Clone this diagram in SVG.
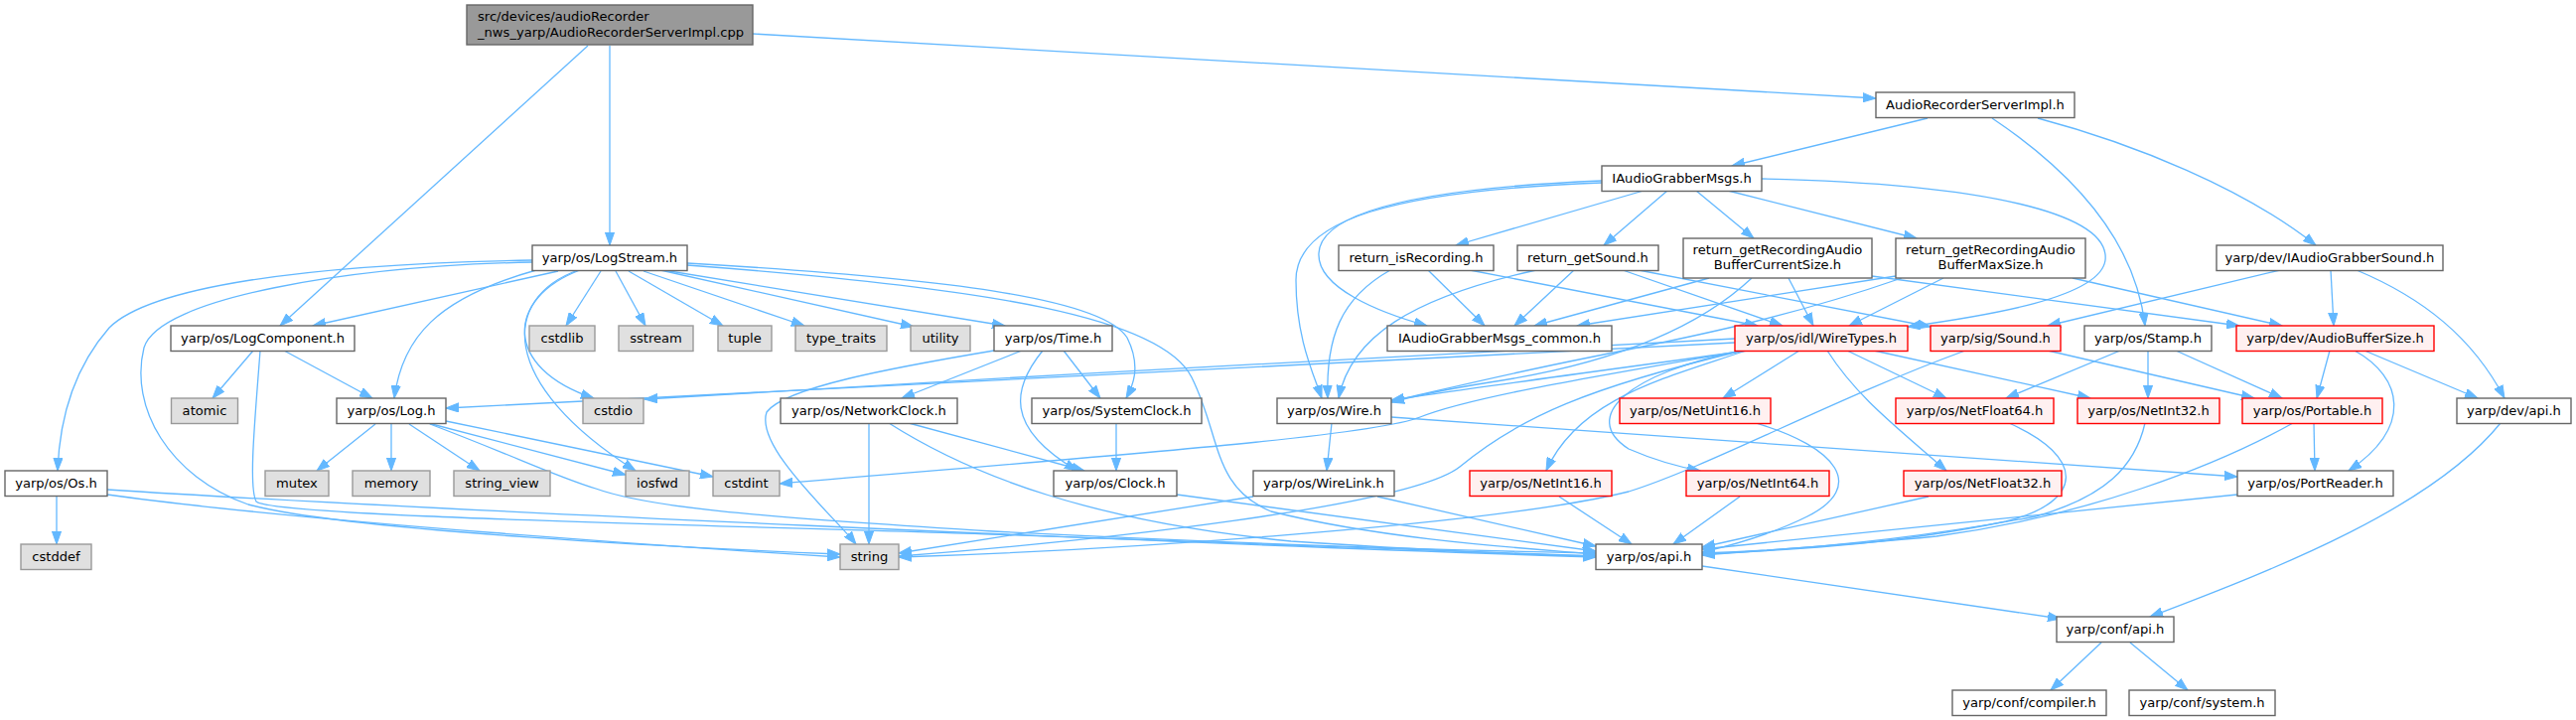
<svg xmlns="http://www.w3.org/2000/svg" width="2594" height="725" viewBox="0 0 2594 725">
<defs>
<marker id="ah" markerWidth="14" markerHeight="10" refX="13" refY="5" orient="auto" markerUnits="userSpaceOnUse">
<path d="M0,0.4 L13,5 L0,9.6 z" fill="#63b8ff" stroke="#63b8ff" stroke-width="1"/>
</marker>
<style>
rect{stroke-width:1.4}
.n rect{fill:#ffffff;stroke:#666666}
.g rect{fill:#e0e0e0;stroke:#999999}
.r rect{fill:#fff0f0;stroke:#ff0000}
.root rect{fill:#999999;stroke:#666666}
text{font-family:"DejaVu Sans","Liberation Sans",sans-serif;font-size:13.1px;fill:#000000}
.c{text-anchor:middle}
#edges path{fill:none;stroke:#63b8ff;stroke-width:1.3;marker-end:url(#ah)}
</style>
</defs>
<rect x="0" y="0" width="2594" height="725" fill="#ffffff"/>
<g id="edges">
<path d="M592,46 L282,328"/>
<path d="M614,46 L614,247"/>
<path d="M758,34 L1889,99"/>
<path d="M1941,119 L1744,167"/>
<path d="M2006,119 C2085,172 2150,240 2160,328"/>
<path d="M2052,119 C2150,145 2260,190 2332,247"/>
<path d="M1655,192 L1466,247"/>
<path d="M1679,192 L1615,247"/>
<path d="M1708,192 L1766,240"/>
<path d="M1740,192 L1930,240"/>
<path d="M1613,182 C1420,190 1330,215 1328,255 C1326,290 1390,315 1437,328"/>
<path d="M1613,184 C1400,192 1305,222 1305,282 C1305,340 1322,375 1331,401"/>
<path d="M1774,180 C2000,185 2125,215 2120,262 C2115,300 2000,318 1921,329"/>
<path d="M536,262 C300,266 150,290 110,330 C75,370 60,420 58,474"/>
<path d="M536,264 C350,268 160,300 145,350 C130,410 170,480 250,508 C350,535 700,552 846,558"/>
<path d="M562,273 L315,328"/>
<path d="M540,272 C440,300 405,340 397,401"/>
<path d="M584,272 C510,300 505,370 598,401"/>
<path d="M582,272 C505,300 500,385 640,474"/>
<path d="M605,273 L570,328"/>
<path d="M620,273 L650,328"/>
<path d="M633,273 L728,328"/>
<path d="M648,273 L810,328"/>
<path d="M665,272 L920,329"/>
<path d="M668,272 L1012,328"/>
<path d="M692,265 C950,280 1110,300 1135,340 C1150,370 1140,390 1134,401"/>
<path d="M692,267 C1000,290 1170,320 1200,380 C1230,440 1220,490 1280,515 C1400,545 1550,553 1607,558"/>
<path d="M255,353 L214,401"/>
<path d="M286,353 L375,401"/>
<path d="M262,353 C257,420 250,490 258,505 C275,520 700,528 1000,538 C1300,550 1500,556 1607,560"/>
<path d="M378,427 L319,474"/>
<path d="M394,427 L394,474"/>
<path d="M412,427 L483,474"/>
<path d="M431,426 L630,478"/>
<path d="M449,424 L718,480"/>
<path d="M433,427 C520,460 560,480 600,492 C650,510 750,520 1000,535 C1300,550 1500,555 1607,557"/>
<path d="M57,500 L57,548"/>
<path d="M108,493 C400,512 1200,548 1607,561"/>
<path d="M108,498 C300,525 700,552 846,561"/>
<path d="M1001,353 C900,370 790,390 772,415 C760,450 840,520 862,548"/>
<path d="M1029,353 L908,401"/>
<path d="M1050,353 C1020,390 1010,430 1085,474"/>
<path d="M1071,353 L1108,401"/>
<path d="M875,427 L875,548"/>
<path d="M915,426 L1092,474"/>
<path d="M895,426 C980,480 1100,525 1300,545 C1450,555 1550,559 1607,560"/>
<path d="M1124,426 L1124,474"/>
<path d="M1185,498 L1607,555"/>
<path d="M1262,500 L905,557"/>
<path d="M1387,500 L1607,550"/>
<path d="M1341,426 L1336,474"/>
<path d="M1401,420 L2253,480"/>
<path d="M1812,353 L1735,401"/>
<path d="M1860,353 L1960,401"/>
<path d="M1887,353 L2105,401"/>
<path d="M1840,353 C1870,400 1910,430 1960,474"/>
<path d="M1755,353 C1640,375 1590,420 1640,452 C1670,465 1690,470 1712,474"/>
<path d="M1758,353 C1680,380 1590,400 1557,474"/>
<path d="M1760,353 C1600,375 1450,395 1401,403"/>
<path d="M1756,353 C1600,380 1480,400 1430,420 C1380,440 1100,460 785,487"/>
<path d="M1747,345 C1500,360 1000,385 449,411"/>
<path d="M1747,341 C1500,354 1000,380 649,402"/>
<path d="M1755,353 C1600,390 1530,420 1470,470 C1420,510 1100,545 905,560"/>
<path d="M1721,280 L1545,328"/>
<path d="M1764,280 C1700,340 1600,370 1500,385 C1450,393 1420,400 1401,405"/>
<path d="M1801,280 L1826,328"/>
<path d="M1885,278 L2255,328"/>
<path d="M1909,278 L1588,328"/>
<path d="M1957,280 L1862,328"/>
<path d="M1915,280 C1800,320 1700,340 1600,360 C1500,380 1430,398 1401,404"/>
<path d="M2087,280 L2298,328"/>
<path d="M1400,272 C1350,300 1335,340 1337,401"/>
<path d="M1438,272 L1495,328"/>
<path d="M1480,272 L1770,328"/>
<path d="M1547,272 C1420,300 1360,340 1348,401"/>
<path d="M1585,272 L1525,328"/>
<path d="M1634,272 L1795,328"/>
<path d="M1650,272 L1944,329"/>
<path d="M2296,272 L2062,328"/>
<path d="M2347,272 L2350,328"/>
<path d="M2373,272 C2440,300 2490,340 2522,401"/>
<path d="M1979,353 C1850,400 1720,470 1640,495 C1500,530 1100,555 905,561"/>
<path d="M2062,353 L2270,401"/>
<path d="M2135,353 L2020,401"/>
<path d="M2163,353 L2163,401"/>
<path d="M2191,353 L2298,401"/>
<path d="M2346,353 L2333,401"/>
<path d="M2371,353 C2420,380 2430,430 2365,474"/>
<path d="M2381,353 L2495,401"/>
<path d="M1768,426 C1850,450 1880,490 1820,520 C1780,540 1740,550 1714,556"/>
<path d="M1570,500 L1643,548"/>
<path d="M1752,500 L1685,548"/>
<path d="M1942,500 L1714,551"/>
<path d="M2023,426 C2100,460 2100,505 2020,525 C1900,550 1780,555 1714,558"/>
<path d="M2160,426 C2150,470 2120,500 2050,520 C1900,548 1780,555 1714,557"/>
<path d="M2330,426 L2331,474"/>
<path d="M2309,426 C2230,470 2100,520 1950,540 C1850,550 1760,555 1714,559"/>
<path d="M2253,498 L1714,553"/>
<path d="M1714,570 L2075,623"/>
<path d="M2518,426 C2450,510 2300,570 2165,621"/>
<path d="M2116,647 L2065,695"/>
<path d="M2145,647 L2203,695"/>
</g>
<g id="n_root" class="root"><rect x="470" y="5" width="288" height="40"/><text x="481" y="20.5">src/devices/audioRecorder</text><text x="481" y="36.5">_nws_yarp/AudioRecorderServerImpl.cpp</text></g>
<g id="n_arsi" class="n"><rect x="1889" y="93" width="200" height="25.5"/><text class="c" x="1989" y="110">AudioRecorderServerImpl.h</text></g>
<g id="n_iagm" class="n"><rect x="1613" y="167" width="161" height="25.5"/><text class="c" x="1693.5" y="184">IAudioGrabberMsgs.h</text></g>
<g id="n_logstream" class="n"><rect x="536" y="247" width="156" height="25.5"/><text class="c" x="614" y="264">yarp/os/LogStream.h</text></g>
<g id="n_isrec" class="n"><rect x="1348" y="247" width="156" height="25.5"/><text class="c" x="1426" y="264">return_isRecording.h</text></g>
<g id="n_getsound" class="n"><rect x="1528" y="247" width="142" height="25.5"/><text class="c" x="1599" y="264">return_getSound.h</text></g>
<g id="n_cur" class="n"><rect x="1695" y="240" width="190" height="40"/><text class="c" x="1790" y="256">return_getRecordingAudio</text><text class="c" x="1790" y="271">BufferCurrentSize.h</text></g>
<g id="n_max" class="n"><rect x="1909" y="240" width="191" height="40"/><text class="c" x="2004.5" y="256">return_getRecordingAudio</text><text class="c" x="2004.5" y="271">BufferMaxSize.h</text></g>
<g id="n_iags" class="n"><rect x="2232" y="247" width="228" height="25.5"/><text class="c" x="2346" y="264">yarp/dev/IAudioGrabberSound.h</text></g>
<g id="n_logcomp" class="n"><rect x="172" y="328" width="185" height="25.5"/><text class="c" x="264.5" y="345">yarp/os/LogComponent.h</text></g>
<g id="n_cstdlib" class="g"><rect x="533" y="328" width="66" height="25.5"/><text class="c" x="566" y="345">cstdlib</text></g>
<g id="n_sstream" class="g"><rect x="623" y="328" width="75" height="25.5"/><text class="c" x="660.5" y="345">sstream</text></g>
<g id="n_tuple" class="g"><rect x="723" y="328" width="54" height="25.5"/><text class="c" x="750" y="345">tuple</text></g>
<g id="n_typetraits" class="g"><rect x="801" y="328" width="92" height="25.5"/><text class="c" x="847" y="345">type_traits</text></g>
<g id="n_utility" class="g"><rect x="917" y="328" width="60" height="25.5"/><text class="c" x="947" y="345">utility</text></g>
<g id="n_time" class="n"><rect x="1001" y="328" width="119" height="25.5"/><text class="c" x="1060.5" y="345">yarp/os/Time.h</text></g>
<g id="n_common" class="n"><rect x="1397" y="328" width="226" height="25.5"/><text class="c" x="1510" y="345">IAudioGrabberMsgs_common.h</text></g>
<g id="n_wiretypes" class="r"><rect x="1747" y="328" width="174" height="25.5"/><text class="c" x="1834" y="345">yarp/os/idl/WireTypes.h</text></g>
<g id="n_sound" class="r"><rect x="1944" y="328" width="131" height="25.5"/><text class="c" x="2009.5" y="345">yarp/sig/Sound.h</text></g>
<g id="n_stamp" class="n"><rect x="2099" y="328" width="128" height="25.5"/><text class="c" x="2163" y="345">yarp/os/Stamp.h</text></g>
<g id="n_abs" class="r"><rect x="2252" y="328" width="199" height="25.5"/><text class="c" x="2351.5" y="345">yarp/dev/AudioBufferSize.h</text></g>
<g id="n_atomic" class="g"><rect x="172.5" y="401" width="67" height="25.5"/><text class="c" x="206" y="418">atomic</text></g>
<g id="n_log" class="n"><rect x="339" y="401" width="110" height="25.5"/><text class="c" x="394" y="418">yarp/os/Log.h</text></g>
<g id="n_cstdio" class="g"><rect x="587" y="401" width="61" height="25.5"/><text class="c" x="617.5" y="418">cstdio</text></g>
<g id="n_netclock" class="n"><rect x="786" y="401" width="178" height="25.5"/><text class="c" x="875" y="418">yarp/os/NetworkClock.h</text></g>
<g id="n_sysclock" class="n"><rect x="1039" y="401" width="171" height="25.5"/><text class="c" x="1124.5" y="418">yarp/os/SystemClock.h</text></g>
<g id="n_wire" class="n"><rect x="1286" y="401" width="115" height="25.5"/><text class="c" x="1343.5" y="418">yarp/os/Wire.h</text></g>
<g id="n_netuint16" class="r"><rect x="1631" y="401" width="152" height="25.5"/><text class="c" x="1707" y="418">yarp/os/NetUint16.h</text></g>
<g id="n_netfloat64" class="r"><rect x="1909" y="401" width="159" height="25.5"/><text class="c" x="1988.5" y="418">yarp/os/NetFloat64.h</text></g>
<g id="n_netint32" class="r"><rect x="2092" y="401" width="143" height="25.5"/><text class="c" x="2163.5" y="418">yarp/os/NetInt32.h</text></g>
<g id="n_portable" class="r"><rect x="2258" y="401" width="141" height="25.5"/><text class="c" x="2328.5" y="418">yarp/os/Portable.h</text></g>
<g id="n_devapi" class="n"><rect x="2474" y="401" width="115" height="25.5"/><text class="c" x="2531.5" y="418">yarp/dev/api.h</text></g>
<g id="n_os" class="n"><rect x="5" y="474" width="103" height="25.5"/><text class="c" x="56.5" y="491">yarp/os/Os.h</text></g>
<g id="n_mutex" class="g"><rect x="267" y="474" width="64" height="25.5"/><text class="c" x="299" y="491">mutex</text></g>
<g id="n_memory" class="g"><rect x="355" y="474" width="78" height="25.5"/><text class="c" x="394" y="491">memory</text></g>
<g id="n_stringview" class="g"><rect x="457" y="474" width="97" height="25.5"/><text class="c" x="505.5" y="491">string_view</text></g>
<g id="n_iosfwd" class="g"><rect x="630" y="474" width="64" height="25.5"/><text class="c" x="662" y="491">iosfwd</text></g>
<g id="n_cstdint" class="g"><rect x="718" y="474" width="67" height="25.5"/><text class="c" x="751.5" y="491">cstdint</text></g>
<g id="n_clock" class="n"><rect x="1061" y="474" width="124" height="25.5"/><text class="c" x="1123" y="491">yarp/os/Clock.h</text></g>
<g id="n_wirelink" class="n"><rect x="1262" y="474" width="142" height="25.5"/><text class="c" x="1333" y="491">yarp/os/WireLink.h</text></g>
<g id="n_netint16" class="r"><rect x="1480" y="474" width="143" height="25.5"/><text class="c" x="1551.5" y="491">yarp/os/NetInt16.h</text></g>
<g id="n_netint64" class="r"><rect x="1698" y="474" width="144" height="25.5"/><text class="c" x="1770" y="491">yarp/os/NetInt64.h</text></g>
<g id="n_netfloat32" class="r"><rect x="1917" y="474" width="159" height="25.5"/><text class="c" x="1996.5" y="491">yarp/os/NetFloat32.h</text></g>
<g id="n_portreader" class="n"><rect x="2253" y="474" width="157" height="25.5"/><text class="c" x="2331.5" y="491">yarp/os/PortReader.h</text></g>
<g id="n_cstddef" class="g"><rect x="21" y="548" width="71" height="25.5"/><text class="c" x="56.5" y="565">cstddef</text></g>
<g id="n_string" class="g"><rect x="846" y="548" width="59" height="25.5"/><text class="c" x="875.5" y="565">string</text></g>
<g id="n_osapi" class="n"><rect x="1607" y="548" width="107" height="25.5"/><text class="c" x="1660.5" y="565">yarp/os/api.h</text></g>
<g id="n_confapi" class="n"><rect x="2071" y="621" width="118" height="25.5"/><text class="c" x="2130" y="638">yarp/conf/api.h</text></g>
<g id="n_compiler" class="n"><rect x="1966" y="695" width="155" height="25.5"/><text class="c" x="2043.5" y="712">yarp/conf/compiler.h</text></g>
<g id="n_system" class="n"><rect x="2144" y="695" width="147" height="25.5"/><text class="c" x="2217.5" y="712">yarp/conf/system.h</text></g>
</svg>
